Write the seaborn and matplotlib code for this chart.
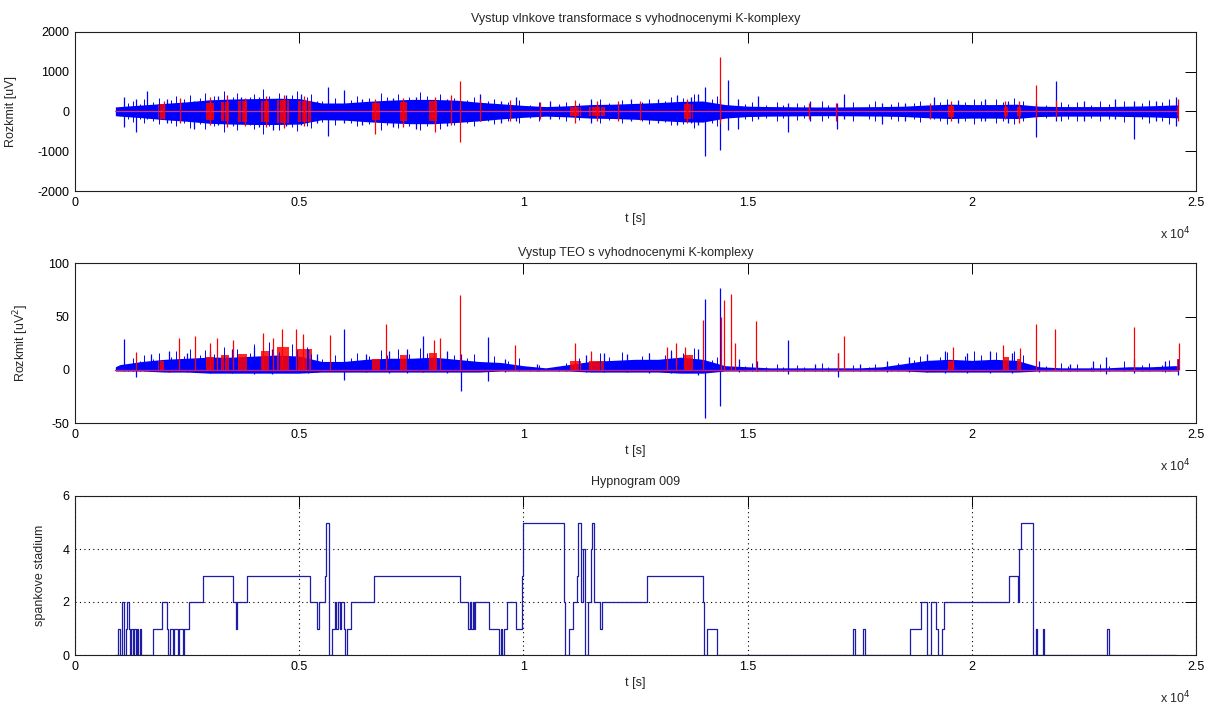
import numpy as np
import pandas as pd
import matplotlib
matplotlib.use("Agg")
import matplotlib.pyplot as plt
import seaborn as sns

# ---------------- data ----------------
# time axis in seconds
env_t = [900, 1000, 1500, 2000, 2500, 3000, 3500, 4000, 4500, 5000, 5500, 6000,
         6500, 7000, 7500, 8000, 8500, 9000, 9500, 10000, 10500, 11000, 11500,
         12000, 12500, 13000, 13500, 14000, 14500, 15000, 15500, 16000, 16500,
         17000, 17500, 18000, 18500, 19000, 19500, 20000, 20500, 21000, 21500,
         22000, 22500, 23000, 23500, 24000, 24500, 24600]

# wavelet output: dense band envelope [uV]
wt_hi = [110, 120, 160, 200, 240, 290, 310, 320, 330, 320, 210, 210, 250, 280,
         300, 300, 280, 230, 190, 150, 120, 140, 170, 180, 200, 220, 250, 260,
         170, 130, 120, 115, 110, 110, 115, 120, 130, 160, 180, 170, 170, 180,
         130, 120, 120, 120, 130, 140, 160, 160]
wt_lo = [-110, -120, -160, -210, -250, -300, -320, -330, -330, -320, -210, -220,
         -260, -290, -310, -310, -280, -240, -190, -150, -120, -140, -170, -180,
         -200, -230, -260, -270, -170, -130, -120, -115, -110, -110, -115, -120,
         -130, -160, -180, -170, -170, -180, -130, -120, -120, -120, -130, -140,
         -160, -160]

# wavelet output: fuzzy edge of the band (time, half-height of the spike)
tex_t = [1180, 1290, 1460, 1530, 1750, 1880, 2150, 2260, 2420, 2560, 2780, 2890,
         3090, 3330, 3520, 3610, 3900, 3990, 4200, 4330, 4560, 4850, 4960, 5180,
         5260, 5500, 5800, 6150, 6280, 6550, 6820, 6950, 7200, 7450, 7700, 7850,
         8150, 8450, 8750, 8900, 9200, 9350, 9650, 9900, 10150, 10350, 10800,
         10950, 11250, 11700, 11900, 12200, 12650, 12800, 13150, 13300, 13550,
         13800, 14200, 14320, 14950, 15100, 15400, 15650, 15800, 16100, 16250,
         16650, 16800, 17350, 17700, 17850, 18200, 18350, 18700, 18850, 19300,
         19450, 19850, 20050, 20200, 20550, 20700, 20950, 21150, 21650, 22000,
         22150, 22350, 22650, 22850, 23050, 23400, 23800, 23950, 24250, 24400]
wt_tex = [200, 260, 180, 300, 230, 330, 280, 380, 300, 420, 330, 450,
          380, 520, 360, 470, 350, 440, 560, 380, 460, 400, 500, 360, 430,
          260, 340, 280, 380,
          330, 460, 350, 430, 360, 480, 380, 440, 340,
          280, 360, 250, 320, 230, 280,
          170, 230, 180, 240,
          210, 300, 220, 290, 240, 320, 270, 350,
          330, 430, 300, 380,
          180, 240, 160, 230, 170, 220, 160, 250, 170, 230, 180, 250, 180, 240,
          200, 260,
          230, 310, 240, 320, 250, 300, 230, 330, 250,
          170, 240, 180, 230, 170, 250, 190, 270, 200, 280, 230, 320]

# wavelet output: single blue spikes (time, min, max)
wt_blue_t = [1087, 1370, 1610, 2050, 2650, 3200, 3707, 4100, 4413, 4700, 5032,
             5400, 5648, 6001, 6400, 7100, 7600, 8300, 9040, 9500, 9830, 10600,
             11500, 12400, 13000, 13425, 13730, 13900, 14040, 14390, 14560, 14780,
             15230, 15890, 16400, 16990, 17160, 17990, 18500, 19160, 19700, 20300,
             20800, 21430, 21880, 22500, 23200, 23610, 24100, 24560]
wt_blue_min = [-400, -520, -200, -300, -440, -350, -300, -400, -480, -380, -350,
               -300, -630, -300, -350, -400, -450, -380, -250, -300, -250, -200,
               -300, -250, -300, -350, -300, -350, -1110, -980, -480, -440, -200,
               -520, -250, -440, -200, -310, -250, -200, -280, -250, -300, -650,
               -250, -250, -200, -690, -250, -380]
wt_blue_max = [360, 300, 500, 320, 250, 380, 360, 350, 300, 400, 445, 250, 610,
               530, 300, 330, 350, 300, 445, 250, 360, 250, 300, 300, 300, 400,
               360, 445, 610, 300, 780, 300, 380, 200, 250, 200, 445, 200, 220,
               360, 280, 300, 260, 200, 760, 250, 300, 250, 260, 360]

# wavelet output: detected K-complexes (red)
wt_red_t = [1990, 2340, 3000, 3400, 3800, 4250, 4650, 5100, 6700, 7320, 8035,
            8390, 8590, 9040, 9700, 10370, 11150, 11650, 12110, 12590, 13650,
            14390, 16370, 16980, 19070, 19530, 20750, 21050, 21430, 21880, 24590]
wt_red_min = [-200, -300, -350, -400, -380, -400, -420, -360, -560, -400, -520,
              -350, -775, -250, -250, -200, -300, -250, -250, -220, -300, -300,
              -200, -250, -200, -250, -200, -280, -200, -150, -250]
wt_red_max = [250, 330, 350, 400, 330, 380, 420, 380, 300, 330, 350, 400, 755,
              300, 280, 230, 280, 250, 250, 250, 300, 1370, 200, 200, 200, 250,
              250, 250, 650, 290, 300]
kc_start = [1855, 2913, 3266, 3620, 4150, 4502, 4942, 6620, 7237, 7898, 11030,
            11470, 13557, 19465, 20690, 21000, 24570]
kc_end = [1987, 3090, 3442, 3840, 4325, 4766, 5296, 6795, 7413, 8075, 11295,
          11820, 13776, 19600, 20820, 21090, 24620]
wt_kc_amp = [180, 220, 240, 260, 270, 290, 270, 220, 240, 250, 110, 110, 190,
             130, 120, 120, 120]

# TEO output: dense band envelope [uV^2]
teo_hi = [3, 5, 8, 10, 11, 12, 12, 13, 14, 13, 8, 8, 10, 11, 11, 12, 10, 8, 7,
          4, 2, 5, 8, 9, 10, 10, 12, 10, 4, 3, 2, 2, 2, 2, 2, 3, 6, 9, 10, 9,
          10, 9, 3, 2, 2, 2, 3, 3, 4, 4]
teo_lo = [-1, -1, -1, -2, -2, -3, -3, -3, -3, -3, -2, -2, -2, -2, -2, -2, -2, -2,
          -1, -1, -1, -1, -2, -2, -2, -2, -3, -3, -1, -1, -1, -1, -1, -1, -1, -1,
          -1, -2, -2, -2, -2, -2, -1, -1, -1, -1, -1, -1, -1, -1]
teo_tex = [6, 11, 8, 14, 10, 16, 12, 18, 13, 20, 14, 19,
           15, 22, 14, 20, 16, 24, 18, 26, 17, 24, 19, 22, 15,
           10, 14, 11, 16,
           13, 19, 14, 20, 15, 21, 16, 22, 14,
           11, 15, 10, 13, 8, 11,
           3, 5, 3, 7,
           11, 16, 12, 17, 13, 16, 14, 19,
           16, 21, 9, 12,
           4, 7, 3, 6, 3, 5, 3, 7, 3, 5, 3, 6, 4, 7, 9, 13,
           12, 17, 13, 18, 14, 17, 13, 18, 14,
           4, 7, 4, 6, 3, 6, 4, 8, 5, 7, 5, 9]

teo_blue_t = [1090, 1370, 1700, 2100, 2500, 3000, 3500, 4000, 4400, 5200, 5400,
              6000, 6500, 7000, 7400, 7750, 8300, 8600, 9200, 9600, 10300, 11400,
              11800, 12300, 12800, 13300, 13900, 14040, 14390, 14800, 15200, 15890,
              16500, 17010, 17500, 18100, 18600, 19000, 19400, 19900, 20400, 20900,
              21500, 22200, 22700, 23000, 23620, 24300, 24600]
teo_blue_min = [-1, -7, -1, -2, -2, -3, -3, -4, -4, -3, -2, -9, -2, -3, -3, -2,
                -3, -20, -10, -2, -1, -2, -2, -2, -3, -3, -5, -45, -34, -2, -1,
                -4, -1, -7, -1, -2, -2, -2, -3, -3, -3, -3, -2, -1, -1, -4, -3,
                -2, -5]
teo_blue_max = [29, 5, 15, 18, 16, 18, 20, 22, 20, 20, 15, 38, 15, 18, 20, 32,
                18, 15, 31, 10, 6, 14, 16, 15, 16, 18, 20, 67, 77, 10, 8, 28, 6,
                16, 6, 8, 12, 15, 18, 16, 18, 16, 8, 6, 8, 12, 10, 8, 10]

teo_red_t = [1370, 2320, 2670, 3000, 3170, 3530, 4190, 4410, 4610, 4925, 5090,
             5680, 6930, 8000, 8140, 8590, 9810, 11140, 11500, 13200, 13400,
             13600, 14000, 14400, 14475, 14620, 14730, 15180, 17010, 17160, 19575,
             20690, 21070, 21430, 21850, 23620, 24620]
teo_red_max = [17, 30, 32, 25, 30, 28, 35, 30, 38, 38, 34, 33, 43, 28, 30, 70,
               23, 25, 18, 22, 25, 22, 47, 50, 66, 71, 25, 46, 16, 32, 22, 23,
               21, 43, 38, 40, 25]
teo_kc_amp = [8, 12, 14, 15, 18, 22, 20, 10, 14, 16, 8, 8, 14, 8, 12, 10, 10]

# hypnogram: change points (time [s], sleep stage)
hyp_t = [900, 950, 1010, 1040, 1100, 1130, 1150, 1210, 1230, 1260, 1290, 1320,
         1350, 1380, 1410, 1440, 1470, 1734, 1930, 2046, 2083, 2120, 2180, 2210,
         2300, 2330, 2400, 2430, 2544, 2865, 3534, 3586, 3620, 3846, 5230, 5394,
         5431, 5580, 5602, 5670, 5729, 5790, 5830, 5860, 5900, 5930, 5990, 6027,
         6064, 6150, 6674, 8593, 8770, 8800, 8840, 8870, 8890, 8920, 9226, 9464,
         9500, 9530, 9560, 9635, 9836, 9962, 9990, 10900, 10937, 11011, 11108,
         11198, 11220, 11290, 11340, 11380, 11440, 11500, 11520, 11580, 11718,
         11755, 12760, 14002, 14030, 14084, 14307, 17358, 17400, 17581, 17625,
         18622, 18860, 18990, 19100, 19195, 19255, 19330, 19382, 20840, 21033,
         21060, 21092, 21375, 21427, 21465, 21580, 21620, 23005, 23050, 24550]
hyp_s = [0, 1, 0, 2, 0, 1, 2, 1, 0, 1, 0, 1,
         0, 1, 0, 1, 0, 1, 2, 1, 0, 1, 0, 1,
         0, 1, 0, 1, 2, 3, 2, 1, 2, 3, 2, 1,
         2, 3, 5, 0, 1, 2, 1, 2, 1, 2, 1, 0,
         1, 2, 3, 2, 1, 2, 1, 2, 1, 2, 1, 0,
         1, 0, 1, 2, 1, 3, 5, 2, 0, 1, 2,
         3, 5, 2, 4, 0, 2, 4, 5, 2, 1,
         2, 3, 2, 0, 1, 0, 1, 0, 1, 0,
         1, 2, 0, 2, 1, 0, 1, 2, 3, 2,
         4, 5, 0, 1, 0, 1, 0, 1, 0, 0]

x_ticks = [0, 5000, 10000, 15000, 20000, 25000]
x_tick_labels = ["0", "0.5", "1", "1.5", "2", "2.5"]

titles = ["Vystup vlnkove transformace s vyhodnocenymi K-komplexy",
          "Vystup TEO s vyhodnocenymi K-komplexy",
          "Hypnogram 009"]
ylabels = ["Rozkmit [uV]", "Rozkmit [uV$^2$]", "spankove stadium"]

# ---------------- styling ----------------
sns.set_style("white")
plt.rcParams['font.family'] = ['Liberation Sans', 'DejaVu Sans']
plt.rcParams['font.size'] = 9
plt.rcParams['axes.linewidth'] = 0.8
plt.rcParams['axes.unicode_minus'] = False

BLUE = "#0000ff"
RED = "#ff0000"
HYP = "#1c1ca8"

fig = plt.figure(figsize=(12.12, 7.04), dpi=100)
W, H = 1212.0, 704.0
left, right = 75 / W, 1196 / W
boxes = [(31.7, 191.0), (263.3, 423.3), (496.0, 655.0)]
axes = []
for top, bot in boxes:
    axes.append(fig.add_axes([left, 1 - bot / H, right - left, (bot - top) / H]))

ylims = [(-2000, 2000), (-50, 100), (0, 6)]
yticks = [[-2000, -1000, 0, 1000, 2000], [-50, 0, 50, 100], [0, 2, 4, 6]]
ylabel_x = [-0.052, -0.039, -0.026]
title_pad = [7, 5, 8]
t_start, t_end = env_t[0], env_t[-1]

# panel 1: wavelet output
ax = axes[0]
ax.fill_between(env_t, wt_lo, wt_hi, color=BLUE, lw=0)
ax.vlines(tex_t, [-a for a in wt_tex], wt_tex, color=BLUE, lw=0.7)
ax.vlines(wt_blue_t, wt_blue_min, wt_blue_max, color=BLUE, lw=0.9)
ax.plot([t_start, t_end], [0, 0], color="#e0306a", lw=0.9)
for s, e, a in zip(kc_start, kc_end, wt_kc_amp):
    ax.fill_between([s, e], [-a, -a], [a, a], color=RED, lw=0, alpha=0.85)
ax.vlines(wt_red_t, wt_red_min, wt_red_max, color=RED, lw=0.9)

# panel 2: TEO output
ax = axes[1]
ax.fill_between(env_t, teo_lo, teo_hi, color=BLUE, lw=0)
ax.vlines(tex_t, [-1] * len(tex_t), teo_tex, color=BLUE, lw=0.7)
ax.vlines(teo_blue_t, teo_blue_min, teo_blue_max, color=BLUE, lw=0.9)
for s, e, a in zip(kc_start, kc_end, teo_kc_amp):
    ax.fill_between([s, e], [0, 0], [a, a], color=RED, lw=0, alpha=0.85)
ax.vlines(teo_red_t, [0] * len(teo_red_t), teo_red_max, color=RED, lw=0.9)
ax.plot([t_start, t_end], [0, 0], color="#d02060", lw=1.0)

# panel 3: hypnogram
ax = axes[2]
hyp = pd.DataFrame({"t": hyp_t, "stage": hyp_s})
sns.lineplot(data=hyp, x="t", y="stage", ax=ax, color=HYP, lw=0.9,
             drawstyle="steps-post", sort=False, estimator=None)
ax.grid(True, color="black", linestyle=(0, (1, 3)), lw=0.8)
ax.set_axisbelow(True)

for i, ax in enumerate(axes):
    ax.set_xlim(0, 25000)
    ax.set_ylim(*ylims[i])
    ax.set_xticks(x_ticks)
    ax.set_xticklabels(x_tick_labels)
    ax.set_yticks(yticks[i])
    ax.tick_params(direction="in", length=8, width=0.7, top=True, right=True,
                   labelsize=9, pad=4, colors="black")
    for sp in ax.spines.values():
        sp.set_visible(True)
        sp.set_color("#202020")
        sp.set_linewidth(0.8)
    ax.set_title(titles[i], fontsize=9, pad=title_pad[i])
    ax.set_xlabel("t [s]", fontsize=9, labelpad=3)
    ax.set_ylabel(ylabels[i], fontsize=9)
    ax.yaxis.set_label_coords(ylabel_x[i], 0.5)
    ax.annotate("x 10$^4$", xy=(1.0, 0.0), xycoords="axes fraction",
                xytext=(-4, -31), textcoords="offset points",
                ha="right", va="center", fontsize=9)

fig.savefig("out.png", dpi=100)
